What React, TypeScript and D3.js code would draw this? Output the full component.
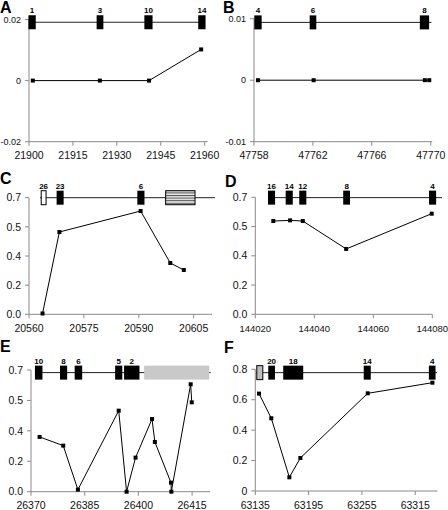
import React from 'react';
import * as d3 from 'd3';

// ---------- Panel A ----------
const aPositions = [21901.3, 21924.2, 21941.0, 21958.8];
const aValues = [0, 0, 0, 0.0102];
const aXTicks = [21900, 21915, 21930, 21945, 21960];
const aYTicks = [-0.02, 0, 0.02];
const aYTickLabels = ['-0.02', '0', '0.02'];
const aExonLabels = ['1', '3', '10', '14'];
const aExonStarts = [21899.8, 21923.1, 21939.4, 21957.8];
const aExonEnds = [21902.3, 21925.4, 21942.2, 21960.3];
const aExonKinds = ['solid', 'solid', 'solid', 'solid'];

// ---------- Panel B ----------
const bPositions = [47758.27, 47762.05, 47769.6, 47769.9];
const bValues = [0, 0, 0, 0];
const bXTicks = [47758, 47762, 47766, 47770];
const bYTicks = [-0.01, 0, 0.01];
const bYTickLabels = ['-0.01', '0', '0.01'];
const bExonLabels = ['4', '6', '8'];
const bExonStarts = [47758.02, 47761.78, 47769.26];
const bExonEnds = [47758.52, 47762.23, 47769.89];
const bExonKinds = ['solid', 'solid', 'solid'];

// ---------- Panel C ----------
const cPositions = [20563.7, 20568.3, 20590.5, 20598.6, 20602.3];
const cValues = [0.005, 0.494, 0.62, 0.308, 0.266];
const cXTicks = [20560, 20575, 20590, 20605];
const cYTicks = [0, 0.175, 0.35, 0.525, 0.7];
const cYTickLabels = ['0.0', '0.2', '0.4', '0.5', '0.7'];
const cExonLabels = ['26', '23', '6', ''];
const cExonStarts = [20563.2, 20567.55, 20589.6, 20597.2];
const cExonEnds = [20564.8, 20569.46, 20591.55, 20605.5];
const cExonKinds = ['open', 'solid', 'solid', 'striped'];

// ---------- Panel D ----------
const dPositions = [144026.1, 144031.8, 144036.1, 144050.8, 144079.8];
const dValues = [0.558, 0.562, 0.558, 0.391, 0.602];
const dXTicks = [144020, 144040, 144060, 144080];
const dYTicks = [0, 0.175, 0.35, 0.525, 0.7];
const dYTickLabels = ['0.0', '0.2', '0.4', '0.5', '0.7'];
const dExonLabels = ['16', '14', '12', '8', '4'];
const dExonStarts = [144024.3, 144030.3, 144034.9, 144049.8, 144078.9];
const dExonEnds = [144026.7, 144032.7, 144037.3, 144052.1, 144081.3];
const dExonKinds = ['solid', 'solid', 'solid', 'solid', 'solid'];

// ---------- Panel E ----------
const ePositions = [26372.4, 26379.0, 26383.1, 26394.5, 26396.7, 26399.2, 26403.8, 26404.6, 26409.1, 26409.2, 26414.6, 26414.9];
const eValues = [0.315, 0.265, 0.012, 0.466, 0.0, 0.196, 0.418, 0.286, 0.052, 0.0, 0.618, 0.514];
const eXTicks = [26370, 26385, 26400, 26415];
const eYTicks = [0, 0.175, 0.35, 0.525, 0.7];
const eYTickLabels = ['0.0', '0.2', '0.4', '0.5', '0.7'];
const eExonLabels = ['10', '8', '6', '5', '2', ''];
const eExonStarts = [26371.1, 26378.1, 26382.2, 26393.5, 26396.0, 26401.6];
const eExonEnds = [26373.2, 26380.1, 26384.3, 26395.5, 26400.3, 26419.8];
const eExonKinds = ['solid', 'solid', 'solid', 'solid', 'solid', 'gray'];

// ---------- Panel F ----------
const fPositions = [63139.2, 63153.0, 63173.3, 63185.7, 63261.5, 63334.3];
const fValues = [0.64, 0.478, 0.09, 0.217, 0.642, 0.712];
const fXTicks = [63135, 63195, 63255, 63315];
const fYTicks = [0, 0.2, 0.4, 0.6, 0.8];
const fYTickLabels = ['0', '0.2', '0.4', '0.6', '0.8'];
const fExonLabels = ['', '20', '18', '14', '4'];
const fExonStarts = [63136.1, 63149.6, 63166.4, 63257.0, 63330.3];
const fExonEnds = [63144.0, 63157.1, 63188.9, 63264.9, 63337.8];
const fExonKinds = ['grayOutlined', 'solid', 'solid', 'solid', 'solid'];

type Panel = {
  letter: string;
  letterPos: [number, number];
  xDomain: [number, number];
  xRange: [number, number];
  yDomain: [number, number];
  yRange: [number, number];
  positions: number[];
  values: number[];
  xTicks: number[];
  yTicks: number[];
  yTickLabels: string[];
  exonLabels: string[];
  exonStarts: number[];
  exonEnds: number[];
  exonKinds: string[];
  geneStart: number;
  geneEnd: number;
  geneY: number;
  xFont: number;
  yFont: number;
  yGap: number;
};

const panels: Panel[] = [
  {
    letter: 'A', letterPos: [0, 12.5],
    xDomain: [21900, 21961], xRange: [29, 207.6],
    yDomain: [-0.02, 0.02], yRange: [141.7, 19.5],
    positions: aPositions, values: aValues, xTicks: aXTicks, yTicks: aYTicks, yTickLabels: aYTickLabels,
    exonLabels: aExonLabels, exonStarts: aExonStarts, exonEnds: aExonEnds, exonKinds: aExonKinds,
    geneStart: 21901, geneEnd: 21959, geneY: 0.0191, xFont: 10.5, yFont: 9, yGap: 8,
  },
  {
    letter: 'B', letterPos: [223, 12.5],
    xDomain: [47758, 47770.1], xRange: [254, 432.2],
    yDomain: [-0.01, 0.01], yRange: [141.7, 18.7],
    positions: bPositions, values: bValues, xTicks: bXTicks, yTicks: bYTicks, yTickLabels: bYTickLabels,
    exonLabels: bExonLabels, exonStarts: bExonStarts, exonEnds: bExonEnds, exonKinds: bExonKinds,
    geneStart: 47758.3, geneEnd: 47770.05, geneY: 0.0094, xFont: 10.5, yFont: 9, yGap: 8,
  },
  {
    letter: 'C', letterPos: [0, 183.5],
    xDomain: [20560, 20610], xRange: [29, 212],
    yDomain: [0, 0.7], yRange: [314.3, 197.7],
    positions: cPositions, values: cValues, xTicks: cXTicks, yTicks: cYTicks, yTickLabels: cYTickLabels,
    exonLabels: cExonLabels, exonStarts: cExonStarts, exonEnds: cExonEnds, exonKinds: cExonKinds,
    geneStart: 20563, geneEnd: 20610.8, geneY: 0.7, xFont: 10.5, yFont: 10.5, yGap: 8,
  },
  {
    letter: 'D', letterPos: [225, 186.5],
    xDomain: [144020, 144080], xRange: [255.3, 432.3],
    yDomain: [0, 0.7], yRange: [314.3, 197.3],
    positions: dPositions, values: dValues, xTicks: dXTicks, yTicks: dYTicks, yTickLabels: dYTickLabels,
    exonLabels: dExonLabels, exonStarts: dExonStarts, exonEnds: dExonEnds, exonKinds: dExonKinds,
    geneStart: 144024.3, geneEnd: 144083.3, geneY: 0.698, xFont: 9.5, yFont: 10.5, yGap: 8,
  },
  {
    letter: 'E', letterPos: [0, 352],
    xDomain: [26370, 26420], xRange: [31, 210],
    yDomain: [0, 0.7], yRange: [491.7, 370],
    positions: ePositions, values: eValues, xTicks: eXTicks, yTicks: eYTicks, yTickLabels: eYTickLabels,
    exonLabels: eExonLabels, exonStarts: eExonStarts, exonEnds: eExonEnds, exonKinds: eExonKinds,
    geneStart: 26371.1, geneEnd: 26420.2, geneY: 0.685, xFont: 10.5, yFont: 10.5, yGap: 8,
  },
  {
    letter: 'F', letterPos: [224, 353],
    xDomain: [63135, 63340], xRange: [255.3, 437.5],
    yDomain: [0, 0.8], yRange: [491, 369.3],
    positions: fPositions, values: fValues, xTicks: fXTicks, yTicks: fYTicks, yTickLabels: fYTickLabels,
    exonLabels: fExonLabels, exonStarts: fExonStarts, exonEnds: fExonEnds, exonKinds: fExonKinds,
    geneStart: 63136, geneEnd: 63339.5, geneY: 0.778, xFont: 10.5, yFont: 10.5, yGap: 8,
  },
];

const FONT = "'Liberation Sans', Arial, Helvetica, sans-serif";
const AXIS = '#8a8a8a';
const EXON_H = 14;

function PanelView({ p }: { p: Panel }) {
  const x = d3.scaleLinear().domain(p.xDomain).range(p.xRange);
  const y = d3.scaleLinear().domain(p.yDomain).range(p.yRange);
  const [x0] = p.xRange;
  const yBottom = p.yRange[0];
  const yTop = p.yRange[1];
  const line = d3
    .line<number>()
    .x((_, i) => x(p.positions[i]))
    .y((v) => y(v));
  const gy = y(p.geneY);

  const exonFill = (k: string) =>
    k === 'solid' ? '#000' : k === 'open' ? '#fff' : k === 'striped' ? 'url(#stripes)' : k === 'gray' ? '#c9c9c9' : '#bdbdbd';

  return (
    <g>
      <text x={p.letterPos[0]} y={p.letterPos[1]} fontFamily={FONT} fontWeight="bold" fontSize={16}>
        {p.letter}
      </text>
      {/* axes */}
      <line x1={x0} x2={p.xRange[1]} y1={yBottom} y2={yBottom} stroke={AXIS} strokeWidth={1} />
      <line x1={x0} x2={x0} y1={yTop} y2={yBottom} stroke={AXIS} strokeWidth={1} />
      {p.xTicks.map((t) => (
        <g key={'xt' + t}>
          <line x1={x(t)} x2={x(t)} y1={yBottom} y2={yBottom + 4} stroke={AXIS} />
          <text x={x(t)} y={yBottom + 17.5} textAnchor="middle" fontFamily={FONT} fontSize={p.xFont} fill="#111">
            {t}
          </text>
        </g>
      ))}
      {p.yTicks.map((t, i) => (
        <g key={'yt' + i}>
          <line x1={x0 - 4} x2={x0} y1={y(t)} y2={y(t)} stroke={AXIS} />
          <text x={x0 - p.yGap} y={y(t)} dy="0.35em" textAnchor="end" fontFamily={FONT} fontSize={p.yFont} fill="#111">
            {p.yTickLabels[i]}
          </text>
        </g>
      ))}
      {/* gene model */}
      <line x1={x(p.geneStart)} x2={x(p.geneEnd)} y1={gy} y2={gy} stroke="#222" strokeWidth={1} />
      {p.exonStarts.map((s, i) => {
        const k = p.exonKinds[i];
        const outlined = k !== 'solid' && k !== 'gray';
        return (
          <g key={'ex' + i}>
            <rect
              x={x(s) + (outlined ? 0.5 : 0)}
              y={gy - EXON_H / 2}
              width={x(p.exonEnds[i]) - x(s) - (outlined ? 1 : 0)}
              height={EXON_H}
              fill={exonFill(k)}
              stroke={outlined ? '#000' : 'none'}
              strokeWidth={1}
            />
            {p.exonLabels[i] && (
              <text
                x={(x(s) + x(p.exonEnds[i])) / 2}
                y={gy - EXON_H / 2 - 2}
                textAnchor="middle"
                fontFamily={FONT}
                fontWeight="bold"
                fontSize={8}
              >
                {p.exonLabels[i]}
              </text>
            )}
          </g>
        );
      })}
      {/* data */}
      <path d={line(p.values) || ''} fill="none" stroke="#000" strokeWidth={1} />
      {p.values.map((v, i) => (
        <rect key={'pt' + i} x={x(p.positions[i]) - 2} y={y(v) - 2} width={4} height={4} fill="#000" />
      ))}
    </g>
  );
}

export default function App() {
  return (
    <svg
      width={448}
      height={510}
      viewBox="0 0 448 510"
      style={{ position: 'absolute', left: 0, top: 0, background: '#fff' }}
    >
      <defs>
        <pattern id="stripes" width={4} height={2.6} patternUnits="userSpaceOnUse">
          <rect width={4} height={2.6} fill="#e4e4e4" />
          <rect width={4} height={1} fill="#555" />
        </pattern>
      </defs>
      <rect width={448} height={510} fill="#fff" />
      {panels.map((p) => (
        <PanelView key={p.letter} p={p} />
      ))}
    </svg>
  );
}
